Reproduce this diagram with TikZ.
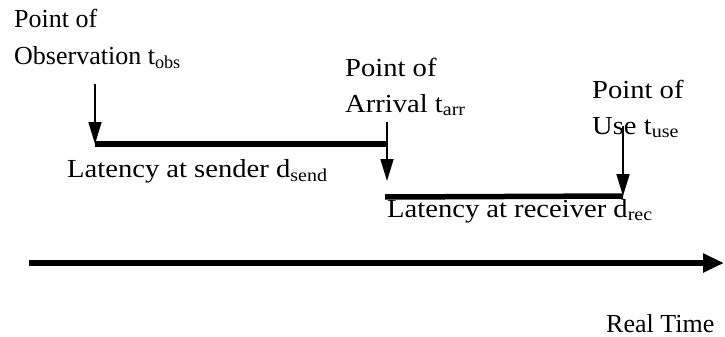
\documentclass[tikz,border=0pt]{standalone}
\usepackage{fontspec}
\setmainfont{Liberation Serif}[FakeStretch=1.1]
\newfontfamily\plainserif{Liberation Serif}
\usetikzlibrary{arrows.meta}
\begin{document}
\begin{tikzpicture}[x=1pt,y=-1pt,
  lbl/.style={anchor=base west,inner sep=0pt,font=\fontsize{26}{30}\selectfont},
  plainlbl/.style={lbl,font=\fontsize{26}{30}\selectfont\plainserif},
  ptr/.style={line width=1.7pt,-{Triangle[width=13pt,length=22pt]}},
  bar/.style={line width=5.5pt},
  axis/.style={line width=6.5pt,-{Triangle[width=18pt,length=21pt]}}]
\useasboundingbox (0,0) rectangle (725,337);
% labels
\node[plainlbl] (obsA) at (14,28) {Point of};
\node[plainlbl] (obsB) at (14,64) {Observation t\textsubscript{obs}};
\node[lbl] (arrA) at (345,76) {Point of};
\node[lbl] (arrB) at (345,112) {Arrival t\textsubscript{arr}};
\node[lbl] (useA) at (592,98) {Point of};
\node[lbl] (useB) at (592,134) {Use t\textsubscript{use}};
\node[lbl] (send) at (67,177) {Latency at sender d\textsubscript{send}};
\node[lbl] (recv) at (387,217) {Latency at receiver d\textsubscript{rec}};
\node[plainlbl] (real) at (606,332) {Real Time};
% coordinates
\coordinate (o1) at (95,84);
\coordinate (o2) at (95,144);
\coordinate (s2) at (387,144);
\coordinate (a1) at (387,122);
\coordinate (a2) at (387,181);
\coordinate (r1) at (385,197);
\coordinate (u1) at (623,126);
\coordinate (u2) at (623,196);
\coordinate (t1) at (29,263);
\coordinate (t2) at (724,263);
% connectors
\draw[bar] (o2) -- (s2);
\draw[bar] (r1) -- (u2);
\draw[ptr] (o1) -- (o2);
\draw[ptr] (a1) -- (a2);
\draw[ptr] (u1) -- (u2);
\draw[axis] (t1) -- (t2);
\end{tikzpicture}
\end{document}
